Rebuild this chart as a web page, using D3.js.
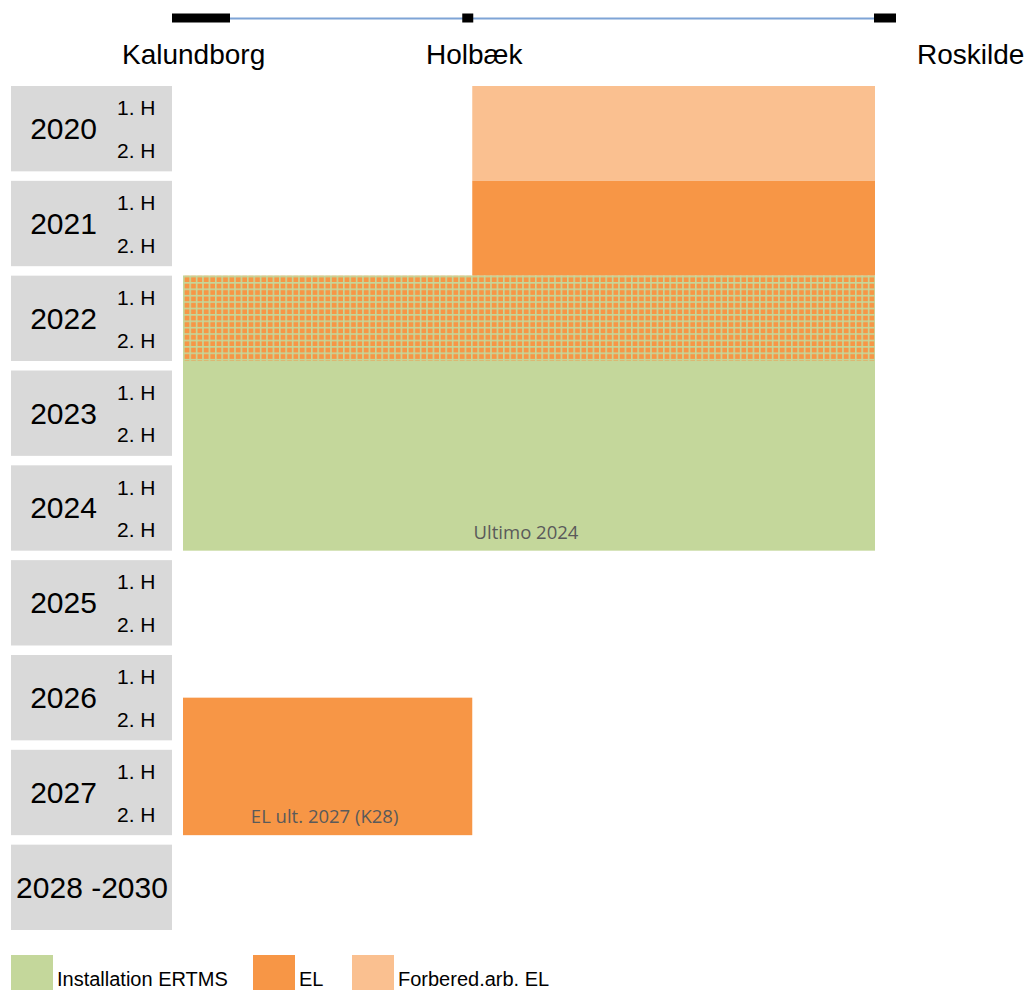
<!DOCTYPE html>
<meta charset="utf-8">
<style>
body { margin: 0; background: #fff; }
svg { display: block; }
.loc { font-family: "Liberation Sans", Arial, sans-serif; font-size: 28px; fill: #000; }
.year { font-family: "Liberation Sans", Arial, sans-serif; font-size: 30px; fill: #000; }
.half { font-family: "Liberation Sans", Arial, sans-serif; font-size: 21px; fill: #000; }
.barlabel { font-family: "Open Sans", sans-serif; font-size: 18.5px; fill: #5a5a5a; }
.legend { font-family: "Liberation Sans", Arial, sans-serif; font-size: 20px; fill: #000; }
</style>
<body>
<script src="https://d3js.org/d3.v7.min.js"></script>
<script>

var width = 1033,
    height = 990;

// stations along the line (0 = Kalundborg, 1 = Roskilde)
var stations = ["Kalundborg", "Holbæk", "Roskilde"];
var stationPos = [0, 0.418, 1];

// time rows
var rows = ["2020", "2021", "2022", "2023", "2024", "2025", "2026", "2027", "2028 -2030"];
var halves = ["1. H", "2. H"];

// activities: from/to = [row, half]
var bars = [
  {type: "forb", from: ["2020", 1], to: ["2020", 2], a: "Holbæk", b: "Roskilde", label: ""},
  {type: "el", from: ["2021", 1], to: ["2021", 2], a: "Holbæk", b: "Roskilde", label: ""},
  {type: "ertms", from: ["2022", 1], to: ["2024", 2], a: "Kalundborg", b: "Roskilde", label: "Ultimo 2024"},
  {type: "elhatch", from: ["2022", 1], to: ["2022", 2], a: "Kalundborg", b: "Roskilde", label: ""},
  {type: "el", from: ["2026", 2], to: ["2027", 2], a: "Kalundborg", b: "Holbæk", label: "EL ult. 2027 (K28)"}
];

var legendKeys = ["ertms", "el", "forb"];
var legendNames = ["Installation ERTMS", "EL", "Forbered.arb. EL"];

var colors = {ertms: "#c4d79b", el: "#f79646", forb: "#fac090"};

var x = d3.scaleLinear().domain([0, 1]).range([183, 875]);
var y = d3.scaleBand().domain(rows).range([86, 930]).paddingInner(0.1);

var svg = d3.select("body").append("svg")
    .attr("width", width)
    .attr("height", height);

// pattern for EL over ERTMS
var pat = svg.append("defs").append("pattern")
    .attr("id", "grid")
    .attr("patternUnits", "userSpaceOnUse")
    .attr("x", x(0)).attr("y", y("2022"))
    .attr("width", 6.4).attr("height", 6.4);
pat.append("rect").attr("width", 6.4).attr("height", 6.4).attr("fill", colors.ertms);
pat.append("rect").attr("x", 1.6).attr("y", 1.6).attr("width", 4.8).attr("height", 4.8).attr("fill", colors.el);

// top line
var stX = function(name) { return x(stationPos[stations.indexOf(name)]); };
svg.append("line")
    .attr("x1", 205).attr("x2", stX("Roskilde"))
    .attr("y1", 18.5).attr("y2", 18.5)
    .attr("stroke", "#7ea4d6").attr("stroke-width", 2);

var markers = [[-11, 47], [-10, 1], [-1, 21]];
svg.selectAll("rect.marker")
  .data(stations)
  .enter().append("rect")
    .attr("class", "marker")
    .attr("x", function(d, i) { return stX(d) + markers[i][0]; })
    .attr("width", function(d, i) { return markers[i][1] - markers[i][0]; })
    .attr("y", 13.5).attr("height", 9)
    .attr("fill", "#000");

var labelX = [122, 426, 917];
svg.selectAll("text.loc")
  .data(stations)
  .enter().append("text")
    .attr("class", "loc")
    .attr("x", function(d, i) { return labelX[i]; })
    .attr("y", 64)
    .text(function(d) { return d; });

// row boxes
var rowG = svg.selectAll("g.row")
  .data(rows)
  .enter().append("g")
    .attr("class", "row")
    .attr("transform", function(d) { return "translate(0," + y(d) + ")"; });

rowG.append("rect")
    .attr("x", 11).attr("width", 161)
    .attr("height", y.bandwidth())
    .attr("fill", "#d9d9d9");

rowG.append("text")
    .attr("class", "year")
    .attr("x", function(d) { return d.length > 4 ? 92 : 63.5; })
    .attr("y", y.bandwidth() / 2 + 10.5)
    .attr("text-anchor", "middle")
    .text(function(d) { return d; });

rowG.filter(function(d) { return d.length == 4; })
  .selectAll("text.half")
  .data(halves)
  .enter().append("text")
    .attr("class", "half")
    .attr("x", 117)
    .attr("y", function(d, i) { return y.bandwidth() * (i + 0.5) / 2 + 8; })
    .text(function(d) { return d; });

// bars
function yStart(t) { return y(t[0]) + (t[1] - 1) * y.bandwidth() / 2; }
function yEnd(t) { return y(t[0]) + t[1] * y.bandwidth() / 2; }
function nextKey(t) {
  if (t[1] == 1) return t[0] + "-2";
  return rows[rows.indexOf(t[0]) + 1] + "-1";
}
function bottom(d) {
  var nk = nextKey(d.to);
  var joined = bars.some(function(b) {
    return b !== d && (b.from[0] + "-" + b.from[1]) == nk;
  });
  if (joined && d.to[1] == 2) return y(rows[rows.indexOf(d.to[0]) + 1]);
  return yEnd(d.to);
}

svg.selectAll("rect.bar")
  .data(bars)
  .enter().append("rect")
    .attr("class", "bar")
    .attr("x", function(d) { return stX(d.a); })
    .attr("width", function(d) { return stX(d.b) - stX(d.a); })
    .attr("y", function(d) { return yStart(d.from); })
    .attr("height", function(d) { return bottom(d) - yStart(d.from); })
    .attr("fill", function(d) { return d.type == "elhatch" ? "url(#grid)" : colors[d.type]; });

svg.selectAll("text.barlabel")
  .data(bars.filter(function(d) { return d.label; }))
  .enter().append("text")
    .attr("class", "barlabel")
    .attr("x", function(d) { return (stX(d.a) + stX(d.b)) / 2 - 3; })
    .attr("y", function(d) { return bottom(d) - 12; })
    .attr("text-anchor", "middle")
    .text(function(d) { return d.label; });

// legend
var legX = [11, 253, 352];
var leg = svg.selectAll("g.legend")
  .data(legendKeys)
  .enter().append("g")
    .attr("class", "legend")
    .attr("transform", function(d, i) { return "translate(" + legX[i] + ",955)"; });

leg.append("rect")
    .attr("width", 42).attr("height", 42)
    .attr("fill", function(d) { return colors[d]; });

leg.append("text")
    .attr("x", 46).attr("y", 31)
    .text(function(d, i) { return legendNames[i]; });

</script>
</body>
